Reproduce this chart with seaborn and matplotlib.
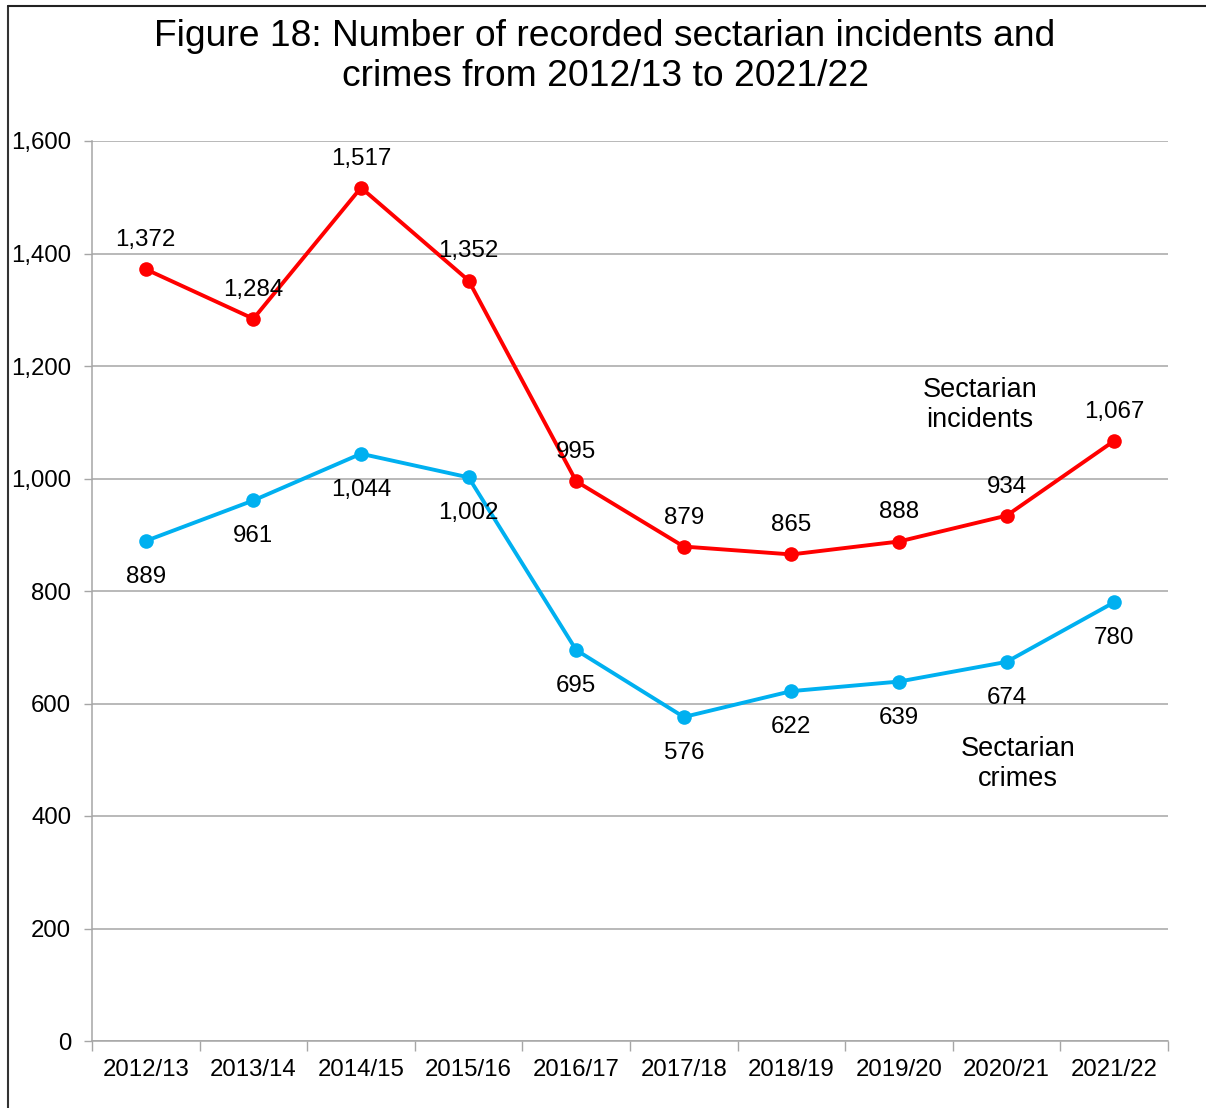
import matplotlib
matplotlib.use("Agg")
import matplotlib.pyplot as plt
import seaborn as sns
import pandas as pd
from matplotlib.lines import Line2D

years = ["2012/13", "2013/14", "2014/15", "2015/16", "2016/17",
         "2017/18", "2018/19", "2019/20", "2020/21", "2021/22"]
incidents = [1372, 1284, 1517, 1352, 995, 879, 865, 888, 934, 1067]
crimes = [889, 961, 1044, 1002, 695, 576, 622, 639, 674, 780]
y_ticks = [0, 200, 400, 600, 800, 1000, 1200, 1400, 1600]
title = "Figure 18: Number of recorded sectarian incidents and\ncrimes from 2012/13 to 2021/22"

sns.set_theme(style="white")
plt.rcParams["font.family"] = ["Liberation Sans", "DejaVu Sans"]
plt.rcParams["text.color"] = "black"
plt.rcParams["xtick.color"] = "black"
plt.rcParams["ytick.color"] = "black"

RED = "#FF0000"
BLUE = "#00B0F0"
GRID = "#A6A6A6"

df = pd.DataFrame({"year": years * 2,
                   "value": incidents + crimes,
                   "series": ["Sectarian incidents"] * len(years) + ["Sectarian crimes"] * len(years)})
df["x"] = df["year"].map({y: i for i, y in enumerate(years)})

fig = plt.figure(figsize=(12.06, 11.08), dpi=100)
ax = fig.add_axes([92 / 1206, 1 - 1041 / 1108, (1168 - 92) / 1206, (1041 - 141) / 1108])

sns.lineplot(data=df, x="x", y="value", hue="series",
             palette={"Sectarian incidents": RED, "Sectarian crimes": BLUE},
             marker="o", markersize=10.5, markeredgewidth=0, linewidth=2.8,
             legend=False, ax=ax, zorder=3)

ax.set_xlim(-0.5, len(years) - 0.5)
ax.set_ylim(0, 1600)
ax.set_yticks(y_ticks)
ax.set_yticklabels([f"{v:,}" for v in y_ticks], fontsize=17.3, color="black")
ax.set_xticks(range(len(years)))
ax.set_xticklabels(years, fontsize=17.3, color="black")
ax.tick_params(axis="x", length=0, pad=13)
ax.tick_params(axis="y", length=6, width=1, color=GRID, pad=9, left=True)
ax.set_xlabel("")
ax.set_ylabel("")

# minor ticks at category boundaries
ax.set_xticks([i - 0.5 for i in range(len(years) + 1)], minor=True)
ax.tick_params(axis="x", which="minor", length=7, width=1, color=GRID, bottom=True, direction="out")

ax.grid(axis="y", color=GRID, linewidth=1.1)
ax.grid(axis="x", visible=False)
for s in ["top", "right"]:
    ax.spines[s].set_visible(False)
ax.spines["left"].set_color(GRID)
ax.spines["bottom"].set_color(GRID)
ax.spines["left"].set_linewidth(1.1)
ax.spines["bottom"].set_linewidth(1.1)

for i, v in enumerate(incidents):
    ax.annotate(f"{v:,}", (i, v), xytext=(0, 29), textcoords="offset pixels",
                ha="center", va="center", fontsize=17.4, color="black", zorder=4)
for i, v in enumerate(crimes):
    ax.annotate(f"{v:,}", (i, v), xytext=(0, -36), textcoords="offset pixels",
                ha="center", va="center", fontsize=17.4, color="black", zorder=4)

fig.text(980 / 1206, 1 - 405 / 1108, "Sectarian\nincidents", ha="center", va="center",
         fontsize=19.5, linespacing=1.22, color="black")
fig.text(1018 / 1206, 1 - 764 / 1108, "Sectarian\ncrimes", ha="center", va="center",
         fontsize=19.5, linespacing=1.22, color="black")

fig.text(605 / 1206, 1 - 56.5 / 1108, title, ha="center", va="center", fontsize=26.8,
         linespacing=1.22, color="black")

# figure border (left and top visible)
fig.add_artist(Line2D([7.5 / 1206, 7.5 / 1206], [0, 1 - 6 / 1108], transform=fig.transFigure,
                      color="#333333", linewidth=1.5))
fig.add_artist(Line2D([7.5 / 1206, 1], [1 - 6 / 1108, 1 - 6 / 1108], transform=fig.transFigure,
                      color="#222222", linewidth=1.5))

fig.savefig("out.png", dpi=100)
